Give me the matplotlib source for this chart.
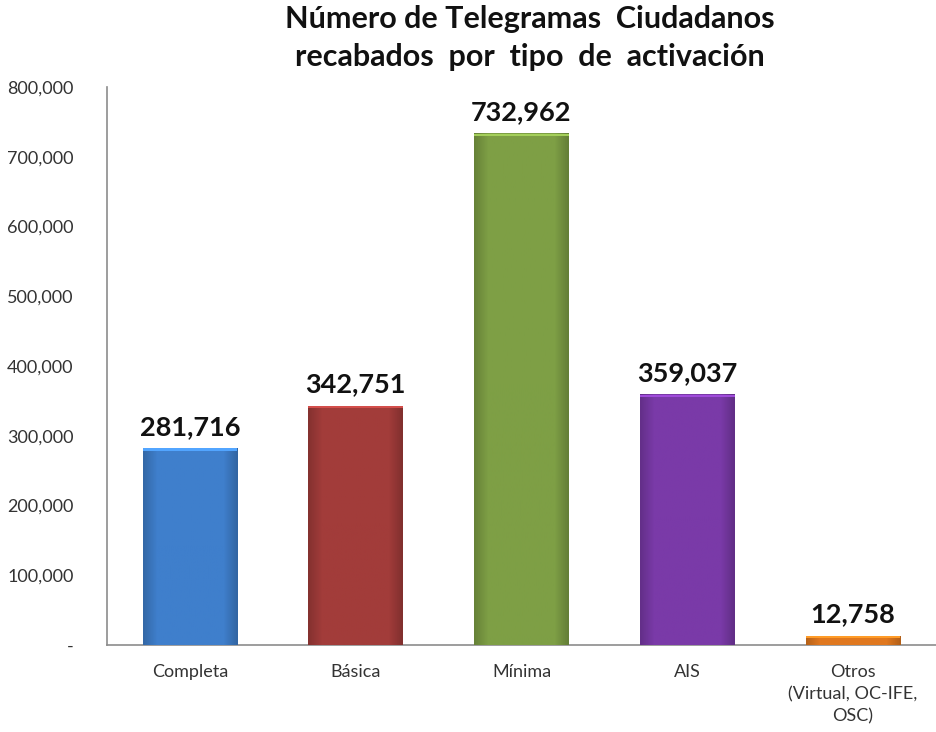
import numpy as np
import matplotlib
matplotlib.use("Agg")
import matplotlib.pyplot as plt
from matplotlib.colors import to_rgb
from matplotlib.ticker import FuncFormatter

plt.rcParams['font.family'] = ['Lato', 'DejaVu Sans']

categorias = ['Completa', 'Básica', 'Mínima', 'AIS', 'Otros\n(Virtual, OC-IFE,\nOSC)']
valores = [281716, 342751, 732962, 359037, 12758]
colores = ['#3F7FCC', '#A23C3A', '#7E9F45', '#7A3AA8', '#E0781F']
titulo = 'Número de Telegramas  Ciudadanos\nrecabados  por  tipo  de  activación'

fig = plt.figure(figsize=(9.36, 7.32), dpi=100)
ax = fig.add_axes([0.1143, 0.119, 0.8857, 0.762])

x = np.arange(len(categorias))
bars = ax.bar(x, valores, width=0.57, color=colores, edgecolor='none', zorder=2)

ax.set_xlim(-0.5, len(categorias) - 0.5)
ax.set_ylim(0, 800000)

# sombreado suave en cada barra
grad = np.concatenate([np.linspace(0.82, 1.0, 8), np.ones(34), np.linspace(1.0, 0.8, 8)])
for b, c in zip(bars, colores):
    rgb = np.array(to_rgb(c))
    img = np.clip(grad[:, None] * rgb[None, :], 0, 1)[None, :, :]
    x0, w, h = b.get_x(), b.get_width(), b.get_height()
    ax.imshow(img, extent=[x0, x0 + w, 0, h], aspect='auto', zorder=3)
    top = np.clip(rgb * 1.3, 0, 1)
    ax.fill_between([x0, x0 + w], h - 3500, h, color=top, lw=0, zorder=4)
    ax.text(b.get_x() + w / 2, h + 14000, f'{int(h):,}', ha='center',
            va='bottom', fontsize=19.5, fontweight='bold', color='#111111')

ax.set_xticks(x)
ax.set_xticklabels(categorias, fontsize=13, color='#333333', linespacing=1.45)
ax.set_yticks(np.arange(0, 800001, 100000))
ax.yaxis.set_major_formatter(FuncFormatter(lambda v, p: '-' if v == 0 else f'{int(v):,}'))
ax.tick_params(axis='y', length=0, labelsize=13, labelcolor='#333333', pad=24)
ax.tick_params(axis='x', length=0, pad=14)

for s in ['top', 'right']:
    ax.spines[s].set_visible(False)
for s in ['left', 'bottom']:
    ax.spines[s].set_color('#8C8C8C')
    ax.spines[s].set_linewidth(1.2)

fig.text(0.566, 0.903, titulo, ha='center', va='bottom', fontsize=22,
         fontweight='bold', color='#111111', linespacing=1.45)

fig.savefig('out.png', dpi=100)
